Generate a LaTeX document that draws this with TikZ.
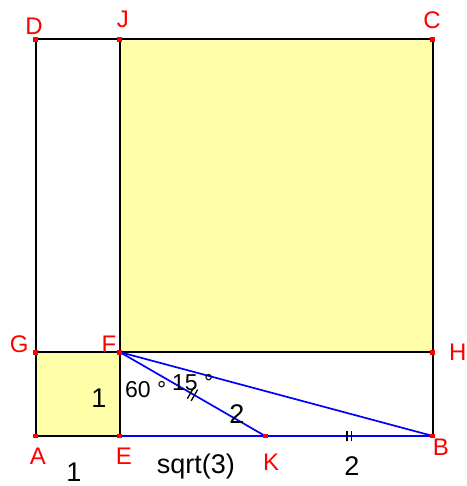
\documentclass[tikz,border=0pt]{standalone}
\usepackage{fontspec}
\setmainfont{Liberation Sans}
\usetikzlibrary{calc,positioning}
\definecolor{paleyellow}{RGB}{255,255,170}
\newcommand{\lblfont}{\fontsize{24}{26}\selectfont}
\newcommand{\numfont}{\fontsize{27}{29}\selectfont}
\newcommand{\angfont}{\fontsize{23}{25}\selectfont}

\begin{document}
\begin{tikzpicture}[x=83.9pt, y=83.9pt,
    pt/.style={rectangle, fill=red, inner sep=0pt, minimum size=5pt},
    every label/.style={red, font=\lblfont, inner sep=0pt},
    edge/.style={line width=1.7pt},
    seg/.style={blue, line width=1.7pt},
    num/.style={font=\numfont, inner sep=0pt},
    ang/.style={font=\angfont, inner sep=0pt, anchor=base west},
    tick/.style={line width=1.3pt}]
    \useasboundingbox (-0.429,-0.596) rectangle (5.137,5.197);

    % corners of the squares
    \coordinate (A) at (0,0);
    \coordinate (E) at (1,0);
    \coordinate (K) at (2.732,0);
    \coordinate (B) at (4.732,0);
    \coordinate (G) at (0,1);
    \coordinate (F) at (1,1);
    \coordinate (H) at (4.732,1);
    \coordinate (D) at (0,4.732);
    \coordinate (J) at (1,4.732);
    \coordinate (C) at (4.732,4.732);

    \fill[paleyellow] (A) rectangle (F);
    \fill[paleyellow] (F) rectangle (C);

    \draw[edge] (A) -- (E) -- (F) -- (G) -- cycle;
    \draw[edge] (F) -- (H) -- (C) -- (J) -- cycle;
    \draw[edge] (G) -- (D) -- (J);
    \draw[edge] (H) -- (B);
    \draw[seg] (E) -- (B);
    \draw[seg] (F) -- (K);
    \draw[seg] (F) -- (B);

    % equal length marks
    \path (F) -- (K) coordinate[pos=0.5] (mFK);
    \path (K) -- (B) coordinate[pos=0.5] (mKB);
    \begin{scope}[shift={(mFK)}, rotate=-30]
        \draw[tick] (-2.2pt,-6.5pt) -- (-2.2pt,6.5pt);
        \draw[tick] (2.2pt,-6.5pt) -- (2.2pt,6.5pt);
    \end{scope}
    \begin{scope}[shift={(mKB)}]
        \draw[tick] (-2.2pt,-5.5pt) -- (-2.2pt,5.5pt);
        \draw[tick] (2.2pt,-5.5pt) -- (2.2pt,5.5pt);
    \end{scope}

    % points
    \node[pt, label={[xshift=2pt, label distance=9.4pt]below:A}] (pA) at (A) {};
    \node[pt, label={[xshift=4pt, label distance=9.4pt]below:E}] (pE) at (E) {};
    \node[pt, label={[xshift=6pt, label distance=15.4pt]below:K}] (pK) at (K) {};
    \node[pt, label={[xshift=8pt, label distance=0.4pt]below:B}] (pB) at (B) {};
    \node[pt, label={[yshift=8pt, label distance=4.6pt]left:G}] (pG) at (G) {};
    \node[pt, label={[yshift=8pt, label distance=0.6pt]left:F}] (pF) at (F) {};
    \node[pt, label={[label distance=13.3pt]right:H}] (pH) at (H) {};
    \node[pt, label={[xshift=-2pt, label distance=1.4pt]above:D}] (pD) at (D) {};
    \node[pt, label={[xshift=3pt, label distance=8.4pt]above:J}] (pJ) at (J) {};
    \node[pt, label={[xshift=-1pt, label distance=7.4pt]above:C}] (pC) at (C) {};

    % lengths and angles
    \node[num] (sideAG) at (0.751,0.453) {1};
    \node[num] (sideAE) at (0.453,-0.43) {1};
    \node[num] (sideEK) at (1.907,-0.358) {sqrt(3)};
    \node[num] (sideKB) at (3.766,-0.358) {2};
    \node[num] (sideFK) at (2.396,0.262) {2};
    \node[ang] (angE) at (1.061,0.453) {60 °};
    \node[ang] (angK) at (1.621,0.548) {15 °};
\end{tikzpicture}
\end{document}
